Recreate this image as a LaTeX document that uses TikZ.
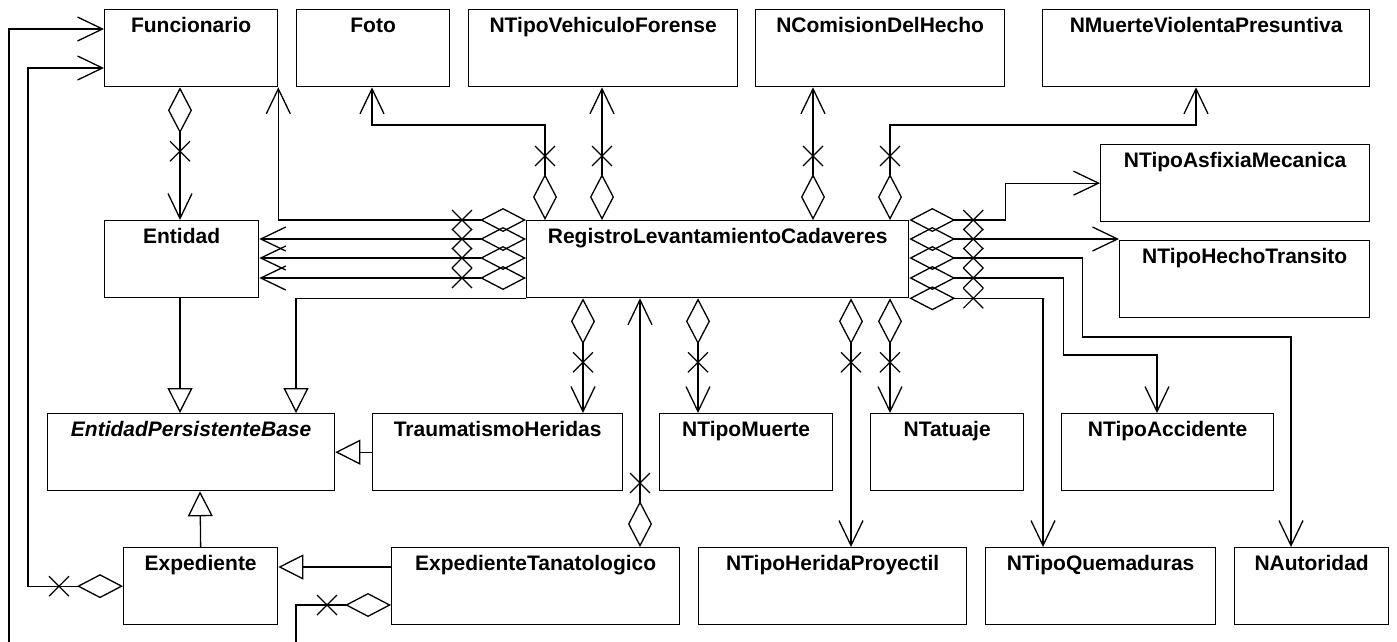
\documentclass[tikz,border=0pt]{standalone}
\usepackage{fontspec}
\setmainfont{Liberation Sans}
\usetikzlibrary{arrows.meta,decorations.markings}
\tikzset{
  box/.style={draw, line width=1.3pt, minimum height=77pt, inner sep=0pt, anchor=north west},
  lbl/.style={font=\bfseries\fontsize{21}{25}\selectfont, anchor=base, inner sep=0pt},
  conn/.style={line width=1.3pt},
  xmark/.style={postaction={decorate,decoration={markings,mark=at position #1 with {\draw[-,line width=1.2pt] (-10pt,-10pt)--(10pt,10pt) (-10pt,10pt)--(10pt,-10pt);}}}},
  agg/.style={conn, {Diamond[open,length=46pt,width=24pt]}-{Straight Barb[length=25pt,width=24pt]}, xmark=64pt},
  inh/.style={conn, -{Triangle[open,length=25pt,width=25pt]}},
}
\newcommand\umlclass[5]{\node[box, minimum width=#4pt] (#1) at (#2,#3) {}; \node[lbl] (#1-t) at ([yshift=-23.5pt]#1.north) {#5};}
\begin{document}
\begin{tikzpicture}[x=1pt,y=-1pt]
\useasboundingbox (0,0) rectangle (1397,641);
\fill[white] (0,0) rectangle (1397,641);
\clip (0,0) rectangle (1397,641);
% classes
\umlclass{fun}{104}{9}{173}{Funcionario}
\umlclass{foto}{296}{9}{153}{Foto}
\umlclass{ntvf}{468}{9}{269}{NTipoVehiculoForense}
\umlclass{ncdh}{755}{9}{249}{NComisionDelHecho}
\umlclass{nmvp}{1042}{9}{327}{NMuerteViolentaPresuntiva}
\umlclass{ntam}{1100}{144}{269}{NTipoAsfixiaMecanica}
\umlclass{ntht}{1119}{240}{250}{NTipoHechoTransito}
\umlclass{ent}{104}{220}{154}{Entidad}
\umlclass{reg}{526}{220}{382}{RegistroLevantamientoCadaveres}
\umlclass{epb}{47}{413}{287}{\itshape EntidadPersistenteBase}
\umlclass{trh}{372}{413}{250}{TraumatismoHeridas}
\umlclass{ntm}{659}{413}{173}{NTipoMuerte}
\umlclass{ntat}{870}{413}{153}{NTatuaje}
\umlclass{ntac}{1061}{413}{212}{NTipoAccidente}
\umlclass{exp}{123}{547}{154}{Expediente}
\umlclass{ext}{391}{547}{288}{ExpedienteTanatologico}
\umlclass{nthp}{698}{547}{268}{NTipoHeridaProyectil}
\umlclass{ntq}{985}{547}{230}{NTipoQuemaduras}
\umlclass{naut}{1234}{547}{154}{NAutoridad}
% aggregations
\draw[agg] ([xshift=76pt]fun.south west) -- ([xshift=76pt]ent.north west);
\draw[agg] (reg.north west) -| (fun.south east);
\draw[agg] ([yshift=-19pt]reg.north west) -- ([yshift=-19pt]ent.north east);
\draw[agg] ([yshift=-38pt]reg.north west) -- ([yshift=-38pt]ent.north east);
\draw[agg] ([yshift=-58pt]reg.north west) -- ([yshift=-58pt]ent.north east);
\draw[agg] ([xshift=19pt]reg.north west) -- ++(0,-95) -| ([xshift=76pt]foto.south west);
\draw[agg] ([xshift=76pt]reg.north west) -- ([xshift=134pt]ntvf.south west);
\draw[agg] ([xshift=287pt]reg.north west) -- ([xshift=58pt]ncdh.south west);
\draw[agg] ([xshift=364pt]reg.north west) -- ++(0,-95) -| ([xshift=154pt]nmvp.south west);
\draw[agg] (reg.north east) -- ++(96,0) |- (ntam.west);
\draw[agg] ([yshift=-19pt]reg.north east) -- ([yshift=-19pt]reg.north east -| ntht.west);
\draw[agg] ([yshift=-38pt]reg.north east) -- ++(173,0) -- ++(0,79) -| ([xshift=57pt]naut.north west);
\draw[agg] ([yshift=-58pt]reg.north east) -- ++(154,0) -- ++(0,77) -| ([xshift=96pt]ntac.north west);
\draw[agg] (reg.south east) -- ++(135,0) -| ([xshift=58pt]ntq.north west);
\draw[agg] ([xshift=57pt]reg.south west) -- ([xshift=211pt]trh.north west);
\draw[agg] ([xshift=249pt]ext.north west) -- ([xshift=114pt]reg.south west);
\draw[agg] ([xshift=172pt]reg.south west) -- ([xshift=39pt]ntm.north west);
\draw[agg] ([xshift=325pt]reg.south west) -- ([xshift=153pt]nthp.north west);
\draw[agg] ([xshift=364pt]reg.south west) -- ([xshift=20pt]ntat.north west);
\draw[agg] (exp.west) -- ++(-95,0) |- ([yshift=-59pt]fun.north west);
\draw[agg] ([yshift=-58pt]ext.north west) -- ++(-95,0) -- ++(0,50) -- ++(-287,0) |- ([yshift=-20pt]fun.north west);
% generalisations
\draw[inh] ([xshift=76pt]ent.south west) -- ([xshift=133pt]epb.north west);
\draw[inh] (reg.south west) -| ([xshift=249pt]epb.north west);
\draw[inh] (trh.west) -- (epb.east);
\draw[inh] (exp.north) -- ([xshift=153pt]epb.south west);
\draw[inh] ([yshift=-20pt]ext.north west) -- ([yshift=-20pt]exp.north east);
\end{tikzpicture}
\end{document}
